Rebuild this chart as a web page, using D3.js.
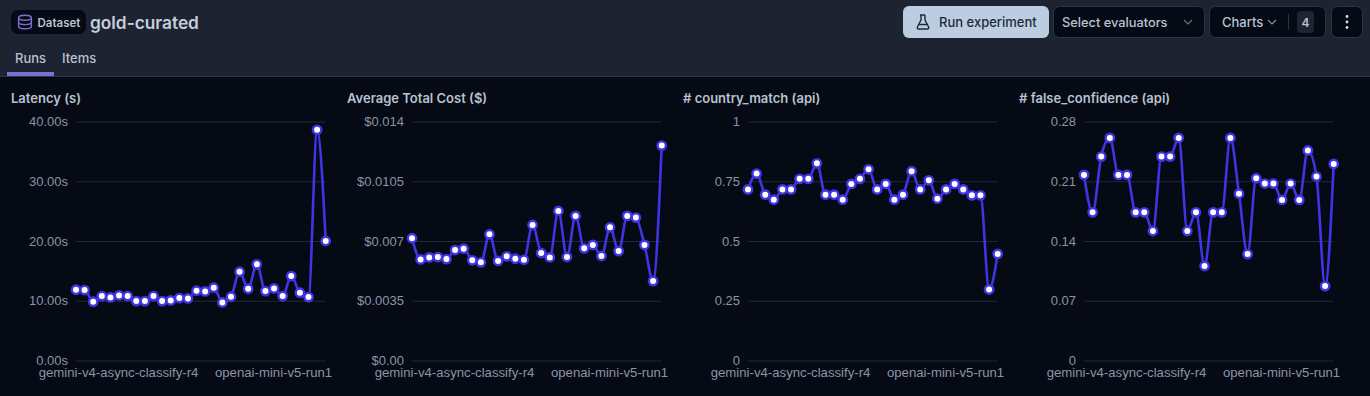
<!DOCTYPE html>
<html>
<head>
<meta charset='utf-8' />
<title>gold-curated</title>
<script src="https://d3js.org/d3.v7.min.js"></script>
<style>
body { margin:0; padding:0; background:#060a14; overflow:hidden; }
svg { display:block; font-family:Inter, 'Noto Sans', sans-serif; }
.tick text { fill:#8a94a6; font-size:13px; }
.xticks .tick text { font-size:13.2px; }
.tick line { stroke:#1e293b; }
.domain { display:none; }
</style>
</head>
<body>
<svg id="chart" width="1370" height="396"></svg>
<script>

var latency = [11.84, 11.79, 9.83, 10.78, 10.56, 10.89, 10.78, 9.94, 9.94, 10.78, 9.94, 10.06, 10.45, 10.39, 11.68, 11.56, 12.18, 9.72, 10.67, 14.86, 12.01, 16.09, 11.62, 12.07, 10.78, 14.13, 11.34, 10.61, 38.6, 20.0];
var totalCost = [0.00716, 0.00592, 0.00604, 0.00606, 0.00594, 0.00647, 0.00655, 0.00587, 0.00575, 0.00739, 0.00583, 0.0061, 0.00596, 0.0059, 0.00794, 0.0063, 0.00604, 0.00876, 0.00606, 0.00847, 0.00657, 0.00677, 0.00612, 0.0078, 0.00641, 0.00847, 0.00837, 0.00677, 0.00465, 0.01259];
var countryMatch = [0.716, 0.782, 0.694, 0.673, 0.716, 0.716, 0.76, 0.76, 0.825, 0.694, 0.694, 0.673, 0.739, 0.76, 0.8, 0.716, 0.739, 0.673, 0.694, 0.792, 0.716, 0.754, 0.677, 0.716, 0.739, 0.716, 0.691, 0.691, 0.297, 0.446];
var falseConfidence = [0.2174, 0.1736, 0.2389, 0.2608, 0.2174, 0.2174, 0.1736, 0.1736, 0.1517, 0.2389, 0.2389, 0.2608, 0.1517, 0.1736, 0.1107, 0.1736, 0.1736, 0.2608, 0.1955, 0.1247, 0.2135, 0.2073, 0.2073, 0.1881, 0.2073, 0.1881, 0.246, 0.2155, 0.0872, 0.2303];

var latencyTicks = [0, 10, 20, 30, 40];
var costTicks = [0, 0.0035, 0.007, 0.0105, 0.014];
var matchTicks = [0, 0.25, 0.5, 0.75, 1];
var confidenceTicks = [0, 0.07, 0.14, 0.21, 0.28];

var latencyLabels = ['0.00s', '10.00s', '20.00s', '30.00s', '40.00s'];
var costLabels = ['$0.00', '$0.0035', '$0.007', '$0.0105', '$0.014'];
var matchLabels = ['0', '0.25', '0.5', '0.75', '1'];
var confidenceLabels = ['0', '0.07', '0.14', '0.21', '0.28'];

// only two run names are readable on the axis, the rest are just positions
var runIndexes = d3.range(latency.length);
var runTicks = [5, 23];
var runTickLabels = ['gemini-v4-async-classify-r4', 'openai-mini-v5-run1'];

var svg = d3.select('#chart');

// header
svg.append('rect').attr('width', 1370).attr('height', 76).attr('fill', '#1d2330');
svg.append('rect').attr('y', 76).attr('width', 1370).attr('height', 1).attr('fill', '#2a3550');

svg.append('rect').attr('x', 11).attr('y', 10).attr('width', 75).attr('height', 24).attr('rx', 7).attr('fill', '#060a14');
var db = svg.append('g').attr('fill', 'none').attr('stroke', '#7f6fd0').attr('stroke-width', 1.4);
db.append('ellipse').attr('cx', 25).attr('cy', 17.8).attr('rx', 6.4).attr('ry', 2.5);
db.append('path').attr('d', 'M18.6 17.8v8.4c0 1.4 2.9 2.6 6.4 2.6s6.4-1.2 6.4-2.6v-8.4M18.6 22c0 1.4 2.9 2.6 6.4 2.6s6.4-1.2 6.4-2.6');

function label(x, y, str, size, weight, color, anchor) {
  return svg.append('text').attr('x', x).attr('y', y).attr('font-size', size).attr('font-weight', weight)
    .attr('fill', color).attr('text-anchor', anchor || 'start').attr('dominant-baseline', 'central').text(str);
}

label(37.5, 22.5, 'Dataset', 11.5, 600, '#b8c2d2');
label(90, 22, 'gold-curated', 17.3, 600, '#c5cedb');

label(15, 58, 'Runs', 13, 500, '#b8c2d2');
label(62, 58, 'Items', 13, 500, '#b8c2d2');
svg.append('rect').attr('x', 7).attr('y', 72).attr('width', 47).attr('height', 4).attr('fill', '#7f6fd0');

// buttons
svg.append('rect').attr('x', 903).attr('y', 6).attr('width', 146).attr('height', 32).attr('rx', 6).attr('fill', '#bccde2');
svg.append('path').attr('fill', 'none').attr('stroke', '#1e293b').attr('stroke-width', 1.4).attr('stroke-linejoin', 'round')
  .attr('d', 'M920 15h5M921 15v5l-3.6 7c-.5 1 .1 2 1.2 2h8.8c1.1 0 1.7-1 1.2-2l-3.6-7v-5M919 24.5h7.5');
label(939, 22, 'Run experiment', 13, 500, '#1e293b');

function outlineButton(x, w) {
  svg.append('rect').attr('x', x + 0.5).attr('y', 6.5).attr('width', w - 1).attr('height', 31).attr('rx', 6)
    .attr('fill', '#060a14').attr('stroke', '#2a3447');
}
function chevron(cx, color) {
  svg.append('path').attr('fill', 'none').attr('stroke', color).attr('stroke-width', 1.1)
    .attr('d', 'M' + (cx - 4) + ' 20l4 4l4 -4');
}
outlineButton(1053, 152);
label(1062, 22, 'Select evaluators', 12.8, 500, '#b8c2d2');
chevron(1188, '#6b7484');

outlineButton(1209, 117);
label(1222, 22, 'Charts', 13, 500, '#b8c2d2');
chevron(1272, '#8a94a6');
svg.append('rect').attr('x', 1288).attr('y', 14).attr('width', 1).attr('height', 16).attr('fill', '#2a3447');
svg.append('rect').attr('x', 1297).attr('y', 11).attr('width', 17).attr('height', 22).attr('rx', 4).attr('fill', '#1e2433');
label(1305.5, 22.5, '4', 12, 600, '#b8c2d2', 'middle');

outlineButton(1331, 32);
svg.selectAll('circle.dot').data([16.5, 22, 27.5]).join('circle').attr('class', 'dot')
  .attr('cx', 1347).attr('cy', function (d) { return d; }).attr('r', 1.4).attr('fill', '#d5dce6');

// charts
var yScaleRange = [360.5, 121.5];
var panels = [
  { title: 'Latency (s)', titleX: 11, left: 76, values: latency, ticks: latencyTicks, labels: latencyLabels },
  { title: 'Average Total Cost ($)', titleX: 347, left: 412, values: totalCost, ticks: costTicks, labels: costLabels },
  { title: '# country_match (api)', titleX: 683, left: 748, values: countryMatch, ticks: matchTicks, labels: matchLabels },
  { title: '# false_confidence (api)', titleX: 1019, left: 1084, values: falseConfidence, ticks: confidenceTicks, labels: confidenceLabels }
];

panels.forEach(function (p) {
  var x = d3.scalePoint().domain(runIndexes).range([p.left, p.left + 249.7]);
  var y = d3.scaleLinear().domain([p.ticks[0], p.ticks[p.ticks.length - 1]]).range(yScaleRange);

  label(p.titleX, 98, p.title, 13, 600, '#b8c2d2');

  var yAxis = d3.axisLeft(y).tickValues(p.ticks)
    .tickFormat(function (d, i) { return p.labels[i]; })
    .tickSizeInner(-249.7).tickSizeOuter(0).tickPadding(8);
  svg.append('g').attr('transform', 'translate(' + p.left + ',0)').call(yAxis);

  var xAxis = d3.axisBottom(x).tickValues(runTicks)
    .tickFormat(function (d, i) { return runTickLabels[i]; })
    .tickSize(0).tickPadding(7);
  svg.append('g').attr('class', 'xticks').attr('transform', 'translate(-1,360.5)').call(xAxis);

  var line = d3.line().x(function (d, i) { return x(i); }).y(function (d) { return y(d); })
    .curve(d3.curveMonotoneX);
  svg.append('path').datum(p.values).attr('d', line).attr('fill', 'none')
    .attr('stroke', '#3f35e4').attr('stroke-width', 2.6);

  svg.append('g').selectAll('circle').data(p.values).join('circle')
    .attr('cx', function (d, i) { return x(i); })
    .attr('cy', function (d) { return y(d); })
    .attr('r', 4.2).attr('fill', '#fff').attr('stroke', '#3f35e4').attr('stroke-width', 2.4);
});

</script>
</body>
</html>
